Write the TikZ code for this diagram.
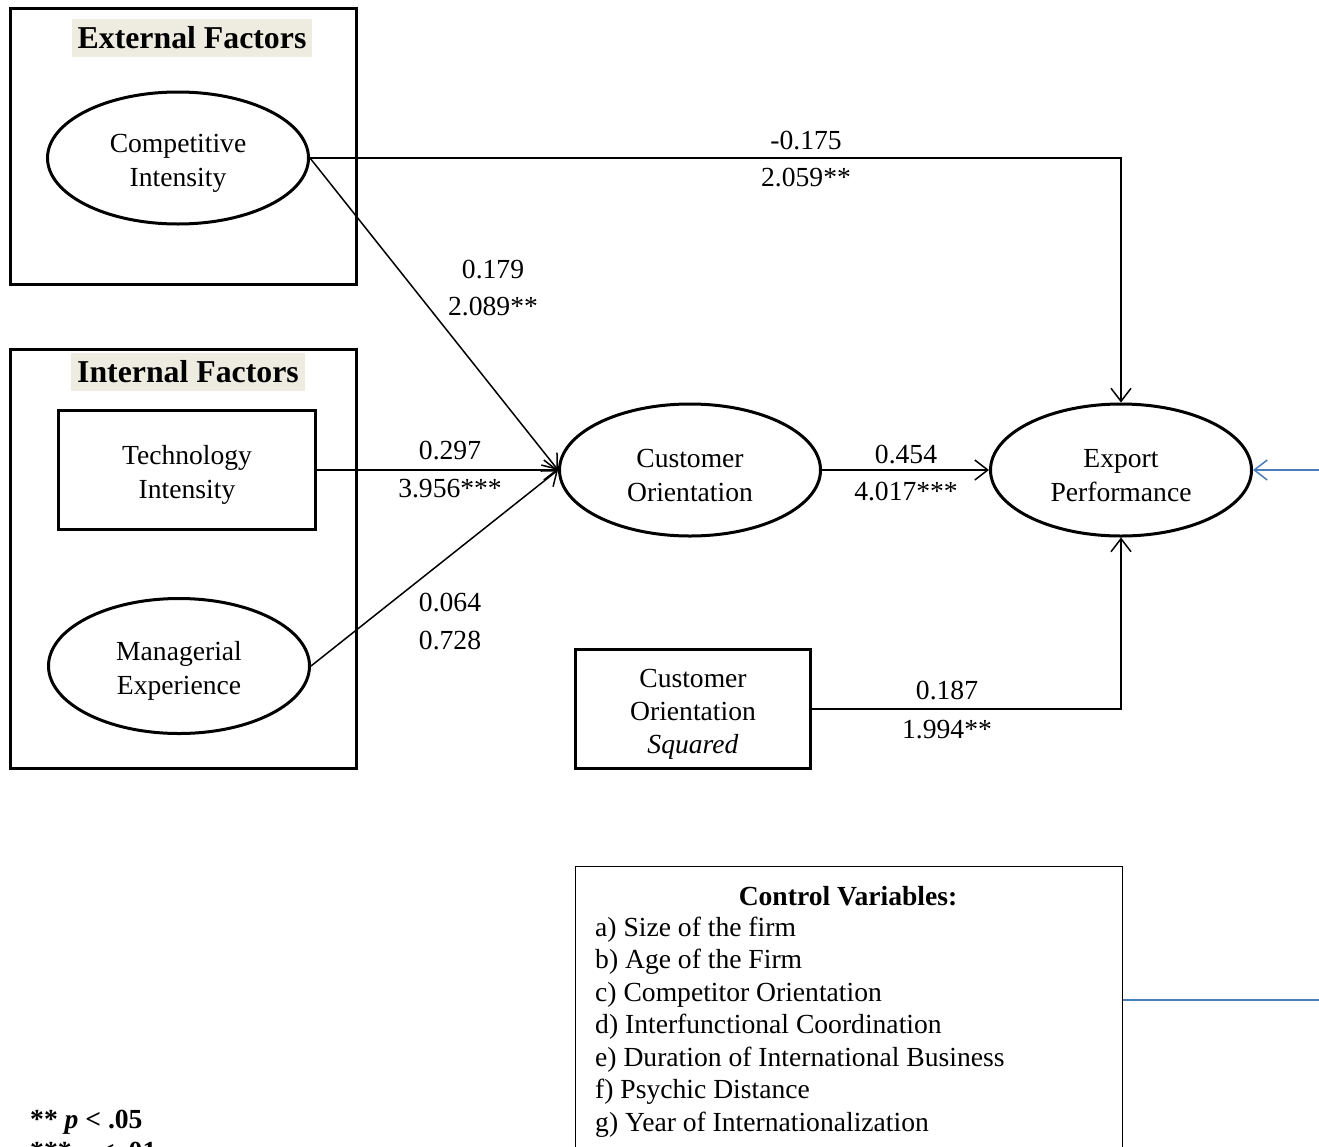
\documentclass[tikz,border=0pt]{standalone}
\usepackage{fontspec}
\setmainfont{Liberation Serif}
\usetikzlibrary{shapes.geometric,arrows.meta}
\definecolor{hl}{HTML}{EEECE1}
\definecolor{bl}{RGB}{74,126,187}
\newcommand\tup{\rule{0pt}{29pt}}
\begin{document}
\begin{tikzpicture}[x=1pt,y=-1pt,
  every node/.style={font=\fontsize{27.6}{34}\selectfont},
  ell/.style={draw, line width=3pt, ellipse, minimum width=261pt, minimum height=132pt, inner sep=0pt, align=center},
  box/.style={draw, line width=3pt, inner sep=0pt, align=center},
  grp/.style={draw, line width=3pt, inner sep=0pt, outer sep=0pt, anchor=north west},
  hdr/.style={fill=hl, font=\fontsize{31.8}{38}\selectfont\bfseries, inner xsep=6pt, inner ysep=0pt, minimum height=38pt},
  lbl/.style={inner sep=0pt},
  arr/.style={line width=1.5pt, -{Straight Barb[length=13pt,width=20pt,line width=1.5pt]}},
  conn/.style={line width=1.5pt}]
\clip (0,0) rectangle (1319,1146);
\fill[white] (0,0) rectangle (1319,1146);

% group boxes
\node[grp, minimum width=346pt, minimum height=276pt] (ext) at (10.5,8.5) {};
\node[grp, minimum width=346pt, minimum height=419pt] (int) at (10.5,349.5) {};
\node[hdr] (exth) at (192,38) {External Factors};
\node[hdr] (inth) at (188,372) {Internal Factors};

% constructs
\node[ell] (ci) at (178,158) {\tup Competitive\\Intensity};
\node[box, minimum width=257pt, minimum height=119pt] (ti) at (187,470) {\tup Technology\\Intensity};
\node[ell, minimum height=135pt] (me) at (179,666) {\tup Managerial\\Experience};
\node[ell] (co) at (690,470) {\tup Customer\\Orientation};
\node[ell] (ep) at (1121,470) {\tup Export\\Performance};
\node[box, minimum width=235pt, minimum height=119pt, font=\fontsize{27.6}{33}\selectfont] (cos) at (693,709) {\tup Customer\\Orientation\\\textit{Squared}};

% control variables
\node[draw, line width=1.5pt, inner sep=0pt, outer sep=0pt, anchor=north west, minimum width=547pt, minimum height=330pt] (cvb) at (575.5,866.5) {};
\node[font=\fontsize{27.6}{34}\selectfont\bfseries] (cvt) at (848,896) {Control Variables:};
\foreach \t [count=\i] in {a) Size of the firm, b) Age of the Firm, c) Competitor Orientation, d) Interfunctional Coordination, e) Duration of International Business, f) Psychic Distance, g) Year of Internationalization}
  \node[lbl, anchor=base west] (cv\i) at (595,936+32.5*\i-32.5) {\t};

% connectors
\draw[arr] (ci.east) -| (ep.north);
\draw[arr] (ci.east) -- (co.west);
\draw[arr] (ti.east) -- (co.west);
\draw[arr] (me.east) -- (co.west);
\draw[arr] (co.east) -- (ep.west);
\draw[arr] (cos.east) -| (ep.south);
\coordinate (br) at (1319,470);
\coordinate (bly) at (1319,1000);
\draw[arr, bl] (br) -- (ep.east);
\draw[conn, bl] (cvb.east |- bly) -- (bly);

% labels
\node[lbl] (l1a) at (806,141) {-0.175};
\node[lbl] (l1b) at (806,178) {2.059**};
\node[lbl] (l2a) at (493,270) {0.179};
\node[lbl] (l2b) at (493,307) {2.089**};
\node[lbl] (l3a) at (450,451) {0.297};
\node[lbl] (l3b) at (450,489) {3.956***};
\node[lbl] (l4a) at (450,603) {0.064};
\node[lbl] (l4b) at (450,641) {0.728};
\node[lbl] (l5a) at (906,455) {0.454};
\node[lbl] (l5b) at (906,492) {4.017***};
\node[lbl] (l6a) at (947,691) {0.187};
\node[lbl] (l6b) at (947,730) {1.994**};

% footnote
\node[lbl, anchor=base west, font=\fontsize{27.6}{34}\selectfont\bfseries] (fn1) at (30,1128) {** \textit{p} < .05};
\node[lbl, anchor=base west, font=\fontsize{27.6}{34}\selectfont\bfseries] (fn2) at (30,1160) {*** \textit{p} < .01};
\end{tikzpicture}
\end{document}
